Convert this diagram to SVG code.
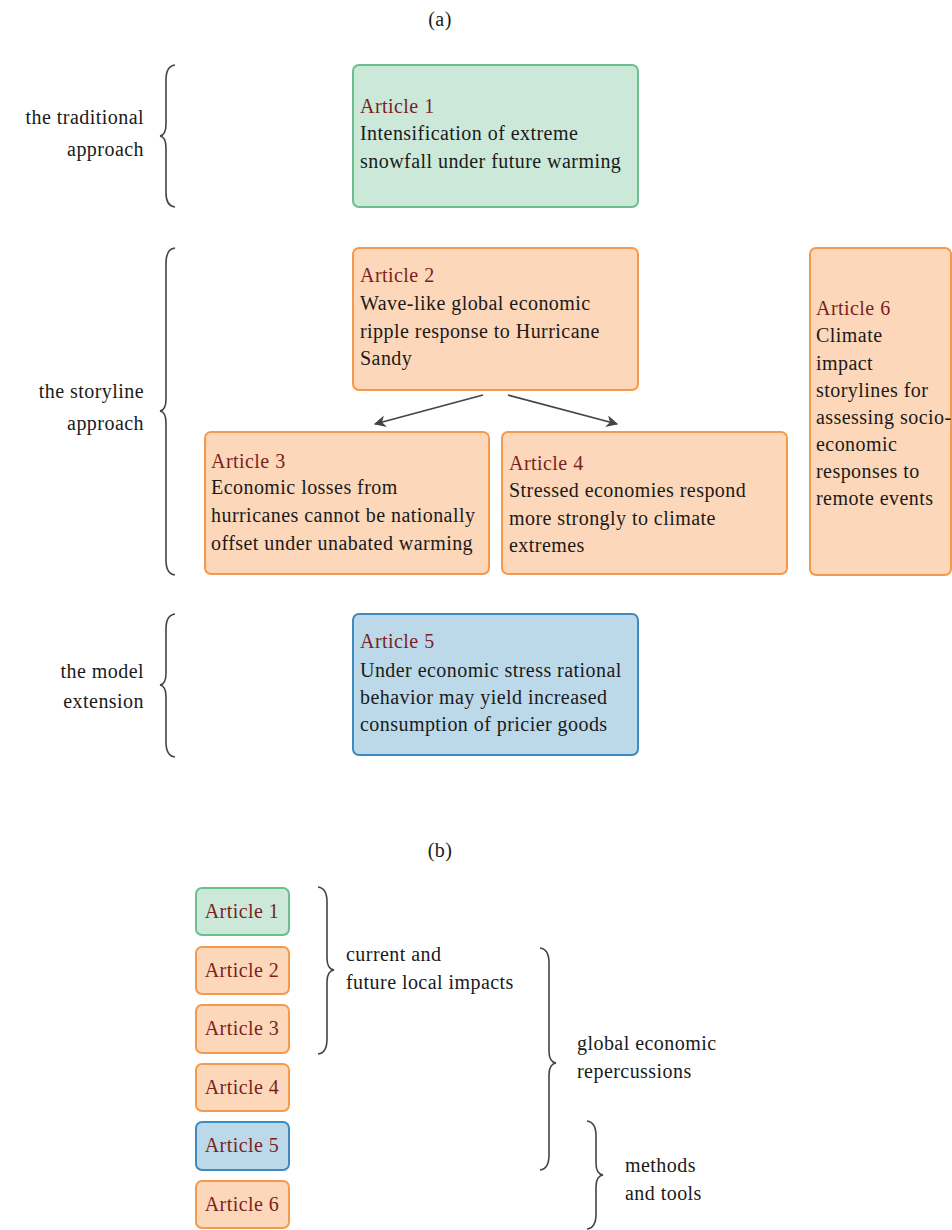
<svg xmlns="http://www.w3.org/2000/svg" width="952" height="1230" viewBox="0 0 952 1230">
<defs>
<style>
text{font-family:"Liberation Serif","DejaVu Serif",serif;font-size:20px;letter-spacing:0.45px;fill:#1a1a1a}
.t{fill:#7a1f1f}
.g{fill:#cce8d9;stroke:#6cbf8c;stroke-width:2}
.o{fill:#fdd7b9;stroke:#f59a4c;stroke-width:2}
.b{fill:#bcd9ea;stroke:#3b8bc2;stroke-width:2}
.br{fill:none;stroke:#444;stroke-width:1.6}
.ar{stroke:#444;stroke-width:1.8;fill:none}
.r{text-anchor:end}
.c{text-anchor:middle}
</style>
<marker id="ah" viewBox="0 0 10 10" refX="9" refY="5" markerWidth="12" markerHeight="12" orient="auto" markerUnits="userSpaceOnUse">
<path d="M0,0 L10,5 L0,10 L3,5 Z" fill="#444"/>
</marker>
</defs>
<rect width="952" height="1230" fill="#fff"/>
<text x="440" y="26" class="c">(a)</text>
<text x="440" y="857" class="c">(b)</text>

<g id="labels-a">
<path class="br" d="M175,65 Q166,66 166,80 L166,124 Q166,135 160,136 Q166,137 166,148 L166,193 Q166,206 175,207"/>
<text x="144" y="124" class="r">the traditional</text>
<text x="144" y="156" class="r">approach</text>
<path class="br" d="M175,248 Q166,249 166,263 L166,399 Q166,410 160,411 Q166,412 166,423 L166,560 Q166,574 175,575"/>
<text x="144" y="398" class="r">the storyline</text>
<text x="144" y="430" class="r">approach</text>
<path class="br" d="M175,614 Q166,615 166,629 L166,673 Q166,684 160,685 Q166,686 166,697 L166,742 Q166,756 175,757"/>
<text x="144" y="678" class="r">the model</text>
<text x="144" y="708" class="r">extension</text>
</g>

<g id="a1">
<rect class="g" x="353" y="65" width="285" height="142" rx="6"/>
<text x="360" y="113" class="t">Article 1</text>
<text x="360" y="140">Intensification of extreme</text>
<text x="360" y="168">snowfall under future warming</text>
</g>
<g id="a2">
<rect class="o" x="353" y="248" width="285" height="142" rx="6"/>
<text x="360" y="282" class="t">Article 2</text>
<text x="360" y="310">Wave-like global economic</text>
<text x="360" y="338">ripple response to Hurricane</text>
<text x="360" y="365">Sandy</text>
</g>
<g id="a3">
<rect class="o" x="205" y="432" width="284" height="142" rx="6"/>
<text x="211" y="468" class="t">Article 3</text>
<text x="211" y="494">Economic losses from</text>
<text x="211" y="522">hurricanes cannot be nationally</text>
<text x="211" y="550">offset under unabated warming</text>
</g>
<g id="a4">
<rect class="o" x="502" y="432" width="285" height="142" rx="6"/>
<text x="509" y="470" class="t">Article 4</text>
<text x="509" y="497">Stressed economies respond</text>
<text x="509" y="525">more strongly to climate</text>
<text x="509" y="552">extremes</text>
</g>
<g id="a6">
<rect class="o" x="810" y="248" width="141" height="327" rx="6"/>
<text x="816" y="315" class="t">Article 6</text>
<text x="816" y="342">Climate</text>
<text x="816" y="370">impact</text>
<text x="816" y="397">storylines for</text>
<text x="816" y="424">assessing socio-</text>
<text x="816" y="451">economic</text>
<text x="816" y="478">responses to</text>
<text x="816" y="505">remote events</text>
</g>
<g id="a5">
<rect class="b" x="353" y="614" width="285" height="141" rx="6"/>
<text x="360" y="648" class="t">Article 5</text>
<text x="360" y="677">Under economic stress rational</text>
<text x="360" y="704">behavior may yield increased</text>
<text x="360" y="731">consumption of pricier goods</text>
</g>

<g id="connectors">
<line class="ar" x1="483" y1="395" x2="375" y2="424" marker-end="url(#ah)"/>
<line class="ar" x1="508" y1="395" x2="617" y2="424" marker-end="url(#ah)"/>
</g>

<g id="b1"><rect class="g" x="196" y="888" width="93" height="47" rx="6"/><text x="242" y="918" class="c t">Article 1</text></g>
<g id="b2"><rect class="o" x="196" y="947" width="93" height="47" rx="6"/><text x="242" y="977" class="c t">Article 2</text></g>
<g id="b3"><rect class="o" x="196" y="1005" width="93" height="48" rx="6"/><text x="242" y="1035" class="c t">Article 3</text></g>
<g id="b4"><rect class="o" x="196" y="1064" width="93" height="47" rx="6"/><text x="242" y="1094" class="c t">Article 4</text></g>
<g id="b5"><rect class="b" x="196" y="1122" width="93" height="48" rx="6"/><text x="242" y="1152" class="c t">Article 5</text></g>
<g id="b6"><rect class="o" x="196" y="1181" width="93" height="47" rx="6"/><text x="242" y="1211" class="c t">Article 6</text></g>

<g id="labels-b">
<path class="br" d="M318,887 Q327,888 327,902 L327,958 Q327,969 334,970 Q327,971 327,982 L327,1039 Q327,1053 318,1054"/>
<text x="346" y="961">current and</text>
<text x="346" y="989">future local impacts</text>
<path class="br" d="M540,948 Q549,949 549,963 L549,1051 Q549,1062 556,1063 Q549,1064 549,1075 L549,1155 Q549,1169 540,1170"/>
<text x="577" y="1050">global economic</text>
<text x="577" y="1078">repercussions</text>
<path class="br" d="M587,1121 Q596,1122 596,1136 L596,1163 Q596,1174 603,1175 Q596,1176 596,1187 L596,1214 Q596,1228 587,1229"/>
<text x="625" y="1172">methods</text>
<text x="625" y="1200">and tools</text>
</g>
</svg>
